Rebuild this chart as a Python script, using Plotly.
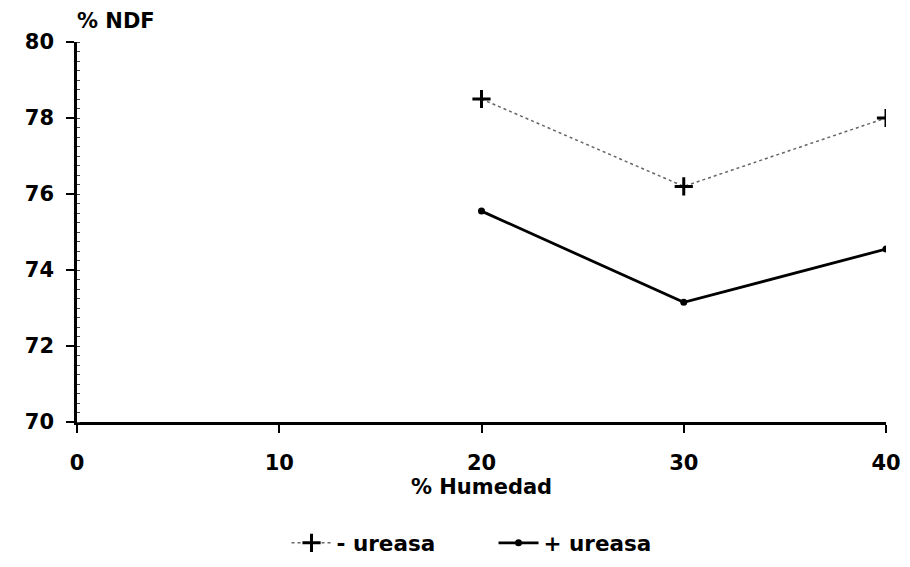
import plotly.graph_objects as go

humedad = [20, 30, 40]
ndf_sin_ureasa = [78.5, 76.2, 78.0]
ndf_con_ureasa = [75.55, 73.15, 74.55]
x_ticks = [0, 10, 20, 30, 40]
y_ticks = [70, 72, 74, 76, 78, 80]

FONT = "DejaVu Sans"

fig = go.Figure()
fig.add_trace(go.Scatter(
    x=humedad, y=ndf_sin_ureasa, name="- ureasa", mode="lines+markers",
    line=dict(color="#666666", width=1.5, dash="dot"),
    marker=dict(symbol="cross-thin", size=13, line=dict(color="black", width=3), color="black"),
))
fig.add_trace(go.Scatter(
    x=humedad, y=ndf_con_ureasa, name="+ ureasa", mode="lines+markers",
    line=dict(color="black", width=2.8),
    marker=dict(symbol="circle", size=7, color="black"),
))

fig.update_layout(
    width=902, height=567,
    margin=dict(l=69, r=24, t=34, b=150),
    paper_bgcolor="white", plot_bgcolor="white",
    font=dict(family=FONT, size=21, color="black", weight="bold"),
    showlegend=True,
    legend=dict(orientation="h", x=0.259, xanchor="left", y=-0.318, yanchor="middle",
                font=dict(family=FONT, size=21.5, color="black", weight="bold"),
                entrywidth=152, entrywidthmode="pixels", itemwidth=40),
    xaxis=dict(range=[0, 40], tickvals=x_ticks, ticktext=[str(v) for v in x_ticks],
               automargin=False,
               showgrid=False, zeroline=False, showline=True, linecolor="black", linewidth=2.5,
               ticks="outside", ticklen=8, tickwidth=2, tickcolor="black",
               ticklabelstandoff=12,
               tickfont=dict(family=FONT, size=21, color="black", weight="bold"),
               title=dict(text="% Humedad", standoff=6,
                          font=dict(family=FONT, size=21, color="black", weight="bold"))),
    yaxis=dict(range=[70, 80], tickvals=y_ticks, ticktext=[str(v) for v in y_ticks],
               automargin=False,
               showgrid=False, zeroline=False, showline=True, linecolor="black", linewidth=2.5,
               ticks="outside", ticklen=8, tickwidth=2, tickcolor="black",
               ticklabelstandoff=8,
               tickfont=dict(family=FONT, size=21, color="black", weight="bold"),
               minor=dict(dtick=0.25, ticks="inside", ticklen=3, tickcolor="#444444", tickwidth=1)),
    annotations=[dict(text="% NDF", xref="paper", yref="paper", x=0.0, y=1.0,
                      xanchor="left", yanchor="middle", yshift=21, xshift=-2, showarrow=False,
                      font=dict(family=FONT, size=21, color="black", weight="bold"))],
)

fig.write_html("out.html")
